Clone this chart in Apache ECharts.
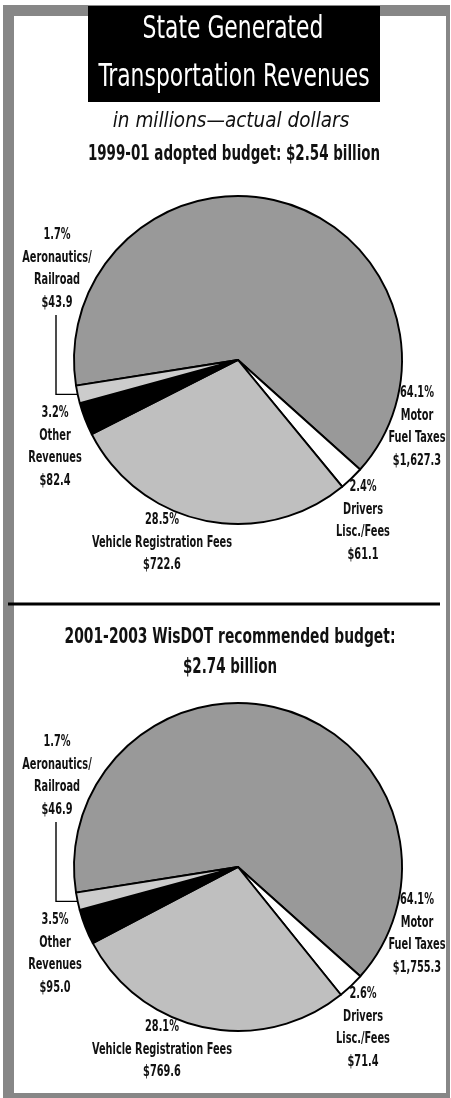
<!DOCTYPE html>
<html><head><meta charset="utf-8">
<script src="https://cdn.jsdelivr.net/npm/echarts@6/dist/echarts.min.js"></script>
<style>html,body{margin:0;padding:0;background:#fff}#c{width:451px;height:1098px}</style>
</head><body><div id="c"></div>
<script>
// ---- data ----
const categories = ['Motor\nFuel Taxes', 'Drivers\nLisc./Fees', 'Vehicle Registration Fees', 'Other\nRevenues', 'Aeronautics/\nRailroad'];
const values1999 = [1627.3, 61.1, 722.6, 82.4, 43.9];
const values2001 = [1755.3, 71.4, 769.6, 95.0, 46.9];
const chartTitle = ['State Generated', 'Transportation Revenues'];
const subTitle = 'in millions\u2014actual dollars';
const title1999 = ['1999-01 adopted budget: $2.54 billion'];
const title2001 = ['2001-2003 WisDOT recommended budget:', '$2.74 billion'];

// ---- style ----
const sliceColors = ['#999999', '#ffffff', '#bfbfbf', '#000000', '#cccccc'];
const FONT = '"DejaVu Sans Condensed", "DejaVu Sans", sans-serif';
const R = 164, START = 189;
const CX = 238;
const centers = [360, 867];
// label offsets from pie centre (top-centre of text block)
const labelOffsets = [[179, 22], [125, 116], [-76, 149], [-183, 42], [-181, -136]];
const LABEL_SCALE = 0.68;

function fmt(v) {
  const parts = v.toFixed(1).split('.');
  parts[0] = parts[0].replace(/\B(?=(\d{3})+(?!\d))/g, ',');
  return '$' + parts.join('.');
}

function txt(text, x, y, size, opts) {
  opts = opts || {};
  return {
    type: 'text', x: x, y: y, scaleX: opts.scale || 1, z: 20, silent: true,
    style: {
      text: text, x: 0, y: 0, fill: opts.fill || '#111',
      font: (opts.style || 'normal') + ' ' + (opts.weight || 'bold') + ' ' + size + 'px ' + FONT,
      textAlign: 'center', textVerticalAlign: opts.va || 'middle',
      lineHeight: opts.lh || size * 1.2
    }
  };
}

function makeSeries(values, cy) {
  const data = values.map((v, i) => ({
    name: categories[i].replace(/\n/g, ' '), value: v,
    itemStyle: { color: sliceColors[i] }
  }));
  return {
    type: 'pie',
    center: [CX, cy], radius: R, startAngle: START, clockwise: true,
    avoidLabelOverlap: false, silent: true, animation: false,
    itemStyle: { borderColor: '#000', borderWidth: 1.9 },
    label: { show: false }, labelLine: { show: false },
    data: data
  };
}

function pieAnnotations(values, cy) {
  const total = values.reduce((a, b) => a + b, 0);
  const out = [];
  values.forEach((v, i) => {
    const o = labelOffsets[i];
    const text = (v / total * 100).toFixed(1) + '%\n' + categories[i] + '\n' + fmt(v);
    out.push(txt(text, CX + o[0], cy + o[1], 16, { va: 'top', lh: 22.5, scale: LABEL_SCALE }));
  });
  // bracket connector for the last (smallest) slice
  const last = values.length - 1;
  const frac = values[last] / total;
  const mid = (START + frac * 180) * Math.PI / 180;
  const edge = [CX + R * Math.cos(mid), cy - R * Math.sin(mid)];
  const o = labelOffsets[last];
  const lx = CX + o[0] - 1;
  const lines = categories[last].split('\n').length + 2;
  out.push({
    type: 'polyline', z: 15, silent: true,
    shape: { points: [[lx, cy + o[1] + lines * 22.5 + 1], [lx, edge[1]], edge] },
    style: { stroke: '#000', lineWidth: 1.4, fill: null }
  });
  return out;
}

const graphics = [
  { type: 'rect', z: -10, silent: true, shape: { x: 3, y: 5, width: 447, height: 1093 }, style: { fill: '#878787' } },
  { type: 'rect', z: -9, silent: true, shape: { x: 14, y: 16, width: 432, height: 1077 }, style: { fill: '#ffffff' } },
  { type: 'rect', z: -8, silent: true, shape: { x: 88, y: 6, width: 292, height: 96 }, style: { fill: '#000000' } },
  { type: 'rect', z: -8, silent: true, shape: { x: 8, y: 602.5, width: 432, height: 3 }, style: { fill: '#000000' } },
  txt(chartTitle[0], 233, 29.5, 32, { fill: '#fff', weight: 'normal', scale: 0.76 }),
  txt(chartTitle[1], 234, 77.5, 32, { fill: '#fff', weight: 'normal', scale: 0.76 }),
  txt(subTitle, 231, 122, 20.5, { style: 'italic', weight: 'normal' }),
  txt(title1999[0], 234, 154, 22, { scale: 0.68 }),
  txt(title2001[0], 230, 637, 22, { scale: 0.70 }),
  txt(title2001[1], 230, 667, 22, { scale: 0.68 })
].concat(pieAnnotations(values1999, centers[0]), pieAnnotations(values2001, centers[1]));

const chart = echarts.init(document.getElementById('c'), null, { renderer: 'canvas' });
chart.setOption({
  backgroundColor: '#ffffff',
  animation: false,
  graphic: graphics,
  series: [makeSeries(values1999, centers[0]), makeSeries(values2001, centers[1])]
});
</script></body></html>
